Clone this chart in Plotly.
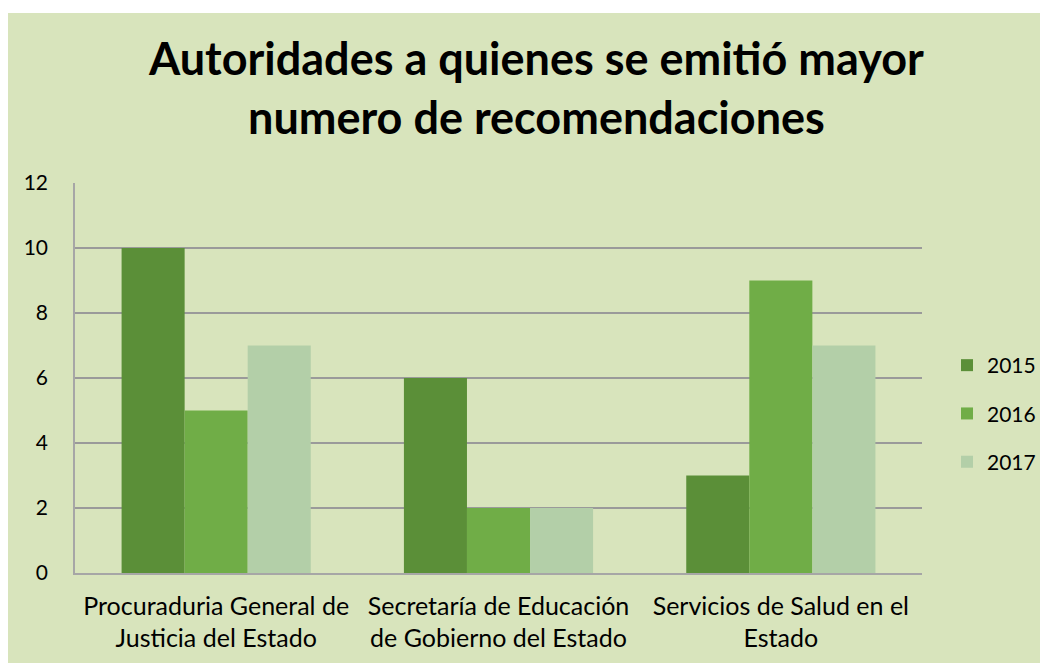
import plotly.graph_objects as go

categories = ["Procuraduria General de<br>Justicia del Estado",
              "Secretaría de Educación<br>de Gobierno del Estado",
              "Servicios de Salud en el<br>Estado"]
years = ["2015", "2016", "2017"]
values_2015 = [10, 6, 3]
values_2016 = [5, 2, 9]
values_2017 = [7, 2, 7]
colors = ["#5b8f38", "#70ad47", "#b3cfa8"]
title_text = "Autoridades a quienes se emitió mayor<br>numero de recomendaciones"

series = [values_2015, values_2016, values_2017]

fig = go.Figure()
for y, vals, c in zip(years, series, colors):
    fig.add_trace(go.Bar(name=y, x=categories, y=vals, legendgroup=y,
                         marker=dict(color=c, line=dict(width=0))))

# page body adds an 8px margin; figure is sized to fit in the window
OFF = 8
W, H = 1048 - OFF, 663 - OFF
L, T = 75 - OFF, 183 - OFF
R = W - (922 - OFF)
B = H - (573 - OFF)
PW, PH = W - L - R, H - T - B


def px_x(sx):  # screen x -> paper fraction
    return (sx - OFF - L) / PW


def px_y(sy):  # screen y -> paper fraction
    return (H - B - (sy - OFF)) / PH


FONT = "Lato, Calibri, sans-serif"

fig.update_layout(
    width=W, height=H,
    paper_bgcolor="white",
    plot_bgcolor="#d8e4bc",
    margin=dict(l=L, r=R, t=T, b=B, pad=0, autoexpand=False),
    barmode="group",
    bargap=0.33,
    bargroupgap=0,
    font=dict(family=FONT, size=25, color="#000000"),
    legend=dict(x=px_x(947), xanchor="left", y=px_y(345), yanchor="top",
                bgcolor="rgba(0,0,0,0)", font=dict(size=21),
                traceorder="grouped", tracegroupgap=18, itemsizing="constant"),
    xaxis=dict(showgrid=False, showline=True, linecolor="#a6a6a6", linewidth=1.5,
               ticks="", tickfont=dict(size=25), ticklabelstandoff=10, fixedrange=True),
    yaxis=dict(range=[0, 12], dtick=2, showgrid=True, gridcolor="#9a9a9a", gridwidth=1.5,
               showline=True, linecolor="#a6a6a6", linewidth=1.5, zeroline=False,
               ticks="", tickfont=dict(size=21), ticklabelstandoff=21),
    showlegend=True,
)

fig.add_annotation(text="<b>" + title_text + "</b>", xref="paper", yref="paper",
                   x=px_x(536), y=px_y(87), xanchor="center", yanchor="middle",
                   showarrow=False, font=dict(family=FONT, size=45, color="#000000"))

# green chart area background
fig.add_shape(type="rect", xref="paper", yref="paper",
              x0=px_x(-5), x1=px_x(1060), y0=px_y(680), y1=px_y(13),
              fillcolor="#d8e4bc", line=dict(width=0), layer="below")

fig.write_html("out.html")
